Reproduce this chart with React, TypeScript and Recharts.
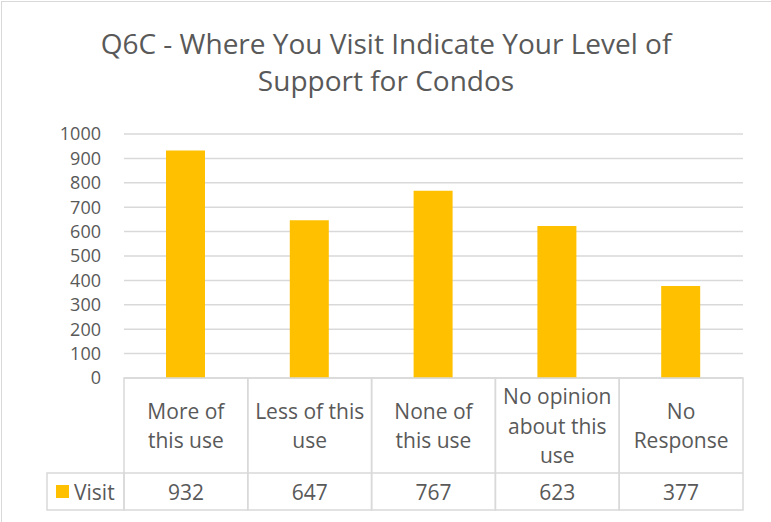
import { BarChart, Bar, XAxis, YAxis, CartesianGrid } from "recharts";

const categories = [
    ["More of", "this use"],
    ["Less of this", "use"],
    ["None of", "this use"],
    ["No opinion", "about this", "use"],
    ["No", "Response"],
];
const visit = [932, 647, 767, 623, 377];
const yTicks = [0, 100, 200, 300, 400, 500, 600, 700, 800, 900, 1000];
const titleLines = ["Q6C - Where You Visit Indicate Your Level of", "Support for Condos"];
const seriesName = "Visit";

const data = categories.map((c, i) => ({ name: c.join(" "), visit: visit[i], idx: i }));

const W = 771;
const H = 522;
const PLOT_LEFT = 124;
const PLOT_RIGHT = 743;
const TEXT = "#595959";
const GRID = "#d9d9d9";
const BAR = "#FFC000";
const FONT = "'Open Sans', sans-serif";
const CAT_ROW = 95;
const VAL_ROW = 37;

function TableTick(props: any) {
    const { x, y, payload } = props;
    const i = payload.index;
    const band = (PLOT_RIGHT - PLOT_LEFT) / categories.length;
    const left = x - band / 2;
    const top = y;
    const lines = categories[i];
    const lh = 29.5;
    const mid = top + CAT_ROW / 2;
    return (
        <g>
            <rect x={left} y={top} width={band} height={CAT_ROW + VAL_ROW} fill="none" stroke={GRID} strokeWidth={1.5} />
            <line x1={left} x2={left + band} y1={top + CAT_ROW} y2={top + CAT_ROW} stroke={GRID} strokeWidth={1.5} />
            {lines.map((l, k) => (
                <text
                    key={k}
                    x={x}
                    y={mid + (k - (lines.length - 1) / 2) * lh}
                    textAnchor="middle"
                    dominantBaseline="central"
                    fill={TEXT}
                    fontSize={21}
                    fontFamily={FONT}
                >
                    {l}
                </text>
            ))}
            <text
                x={x}
                y={top + CAT_ROW + VAL_ROW / 2}
                textAnchor="middle"
                dominantBaseline="central"
                fill={TEXT}
                fontSize={21}
                fontFamily={FONT}
            >
                {visit[i]}
            </text>
            {i === 0 && (
                <g>
                    <rect x={47} y={top + CAT_ROW} width={left - 47} height={VAL_ROW} fill="none" stroke={GRID} strokeWidth={1.5} />
                    <rect x={56} y={top + CAT_ROW + 12} width={13} height={13} fill={BAR} />
                    <text
                        x={74}
                        y={top + CAT_ROW + VAL_ROW / 2}
                        dominantBaseline="central"
                        fill={TEXT}
                        fontSize={21}
                        fontFamily={FONT}
                    >
                        {seriesName}
                    </text>
                </g>
            )}
        </g>
    );
}

export default function App() {
    return (
        <div style={{ position: "absolute", left: 0, top: 0, width: W, height: H, overflow: "hidden", background: "#fff" }}>
            <div
                style={{
                    position: "absolute",
                    left: 1,
                    top: 1,
                    width: W + 10,
                    height: H + 10,
                    border: `1.5px solid ${GRID}`,
                }}
            />
            <svg width={W} height={110} style={{ position: "absolute", left: 0, top: 0 }}>
                {titleLines.map((t, k) => (
                    <text
                        key={k}
                        x={386}
                        y={54 + k * 37}
                        textAnchor="middle"
                        fill={TEXT}
                        fontSize={28}
                        fontFamily={FONT}
                    >
                        {t}
                    </text>
                ))}
            </svg>
            <div style={{ position: "absolute", left: 0, top: 0 }}>
                <BarChart
                    width={W}
                    height={H}
                    data={data}
                    margin={{ top: 134, right: W - PLOT_RIGHT, bottom: 12, left: 0 }}
                >
                    <CartesianGrid vertical={false} stroke={GRID} strokeWidth={1.5} />
                    <XAxis
                        dataKey="name"
                        height={H - 378 - 12}
                        axisLine={false}
                        tickLine={false}
                        tickSize={0}
                        tickMargin={0}
                        interval={0}
                        tick={<TableTick />}
                    />
                    <YAxis
                        width={PLOT_LEFT}
                        domain={[0, 1000]}
                        ticks={yTicks}
                        axisLine={false}
                        tickLine={false}
                        tickSize={0}
                        tickMargin={23}
                        interval={0}
                        tick={{ fill: TEXT, fontSize: 18, fontFamily: FONT }}
                    />
                    <Bar dataKey="visit" fill={BAR} barSize={39} isAnimationActive={false} />
                </BarChart>
            </div>
        </div>
    );
}
